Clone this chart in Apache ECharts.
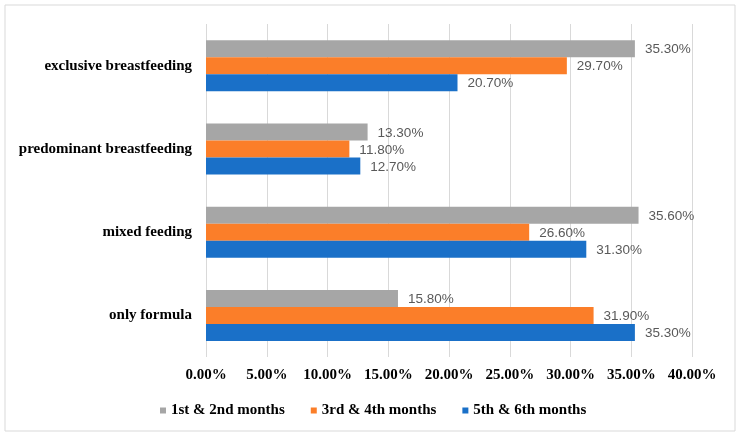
<!DOCTYPE html>
<html>
<head>
<meta charset="utf-8">
<script src="https://cdn.jsdelivr.net/npm/echarts@6/dist/echarts.min.js"></script>
<style>html,body{margin:0;padding:0;background:#fff}#c{width:741px;height:436px}</style>
</head>
<body>
<div id="c"></div>
<script>
const categories = ['exclusive breastfeeding', 'predominant breastfeeding', 'mixed feeding', 'only formula'];
const seriesNames = ['1st & 2nd months', '3rd & 4th months', '5th & 6th months'];
const months12 = [35.3, 13.3, 35.6, 15.8];
const months34 = [29.7, 11.8, 26.6, 31.9];
const months56 = [20.7, 12.7, 31.3, 35.3];
const colors = ['#A6A6A6', '#FB7E29', '#1A70C8'];

const chart = echarts.init(document.getElementById('c'));
const serifBold = {fontFamily: 'Liberation Serif', fontWeight: 'bold', fontSize: 15, color: '#000'};
const mk = (name, data, color) => ({
  name, type: 'bar', data, barWidth: 17, barGap: '0%',
  itemStyle: {color},
  label: {show: true, position: 'right', distance: 10, offset: [0, 1], formatter: p => p.value.toFixed(2) + '%',
    fontFamily: 'Liberation Sans', fontSize: 13.5, color: '#595959'}
});
chart.setOption({
  backgroundColor: '#fff',
  animation: false,
  color: colors,
  grid: {left: 206, right: 49, top: 24, bottom: 79, containLabel: false},
  legend: {
    data: seriesNames, left: 155, top: 398, itemWidth: 6, itemHeight: 6, itemGap: 26,
    icon: 'rect', textStyle: serifBold
  },
  xAxis: {
    type: 'value', min: 0, max: 40, interval: 5,
    axisLabel: Object.assign({formatter: v => v.toFixed(2) + '%', margin: 11}, serifBold),
    splitLine: {lineStyle: {color: '#D9D9D9'}},
    axisLine: {show: false}, axisTick: {show: false}
  },
  yAxis: {
    type: 'category', data: categories, inverse: true,
    axisLabel: Object.assign({margin: 14}, serifBold),
    axisLine: {show: false}, axisTick: {show: false}
  },
  series: [mk(seriesNames[0], months12, colors[0]), mk(seriesNames[1], months34, colors[1]), mk(seriesNames[2], months56, colors[2])],
  graphic: [{type: 'rect', shape: {x: 5, y: 5, width: 730, height: 426}, style: {fill: 'none', stroke: '#D9D9D9', lineWidth: 1}, silent: true}]
});
</script>
</body>
</html>
